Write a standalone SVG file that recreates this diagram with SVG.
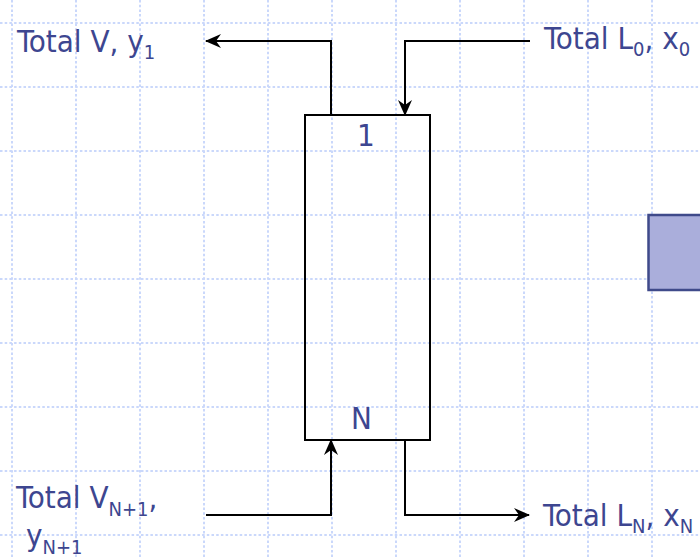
<svg xmlns="http://www.w3.org/2000/svg" width="700" height="559" viewBox="0 0 700 559">
<defs>
<style>
.grid line{stroke:#cad8fb;stroke-width:2;stroke-dasharray:2.5 2.2}
.lbl{font-family:"DejaVu Sans","Verdana",sans-serif;font-stretch:condensed;font-size:31px;fill:#3d4690}
.sub{font-size:20px}
.conn{fill:none;stroke:#000;stroke-width:2}
</style>
<marker id="ah" viewBox="0 0 16 14" refX="15" refY="7" markerWidth="16" markerHeight="14" markerUnits="userSpaceOnUse" orient="auto">
<path d="M0,0 L16,7 L0,14 L5,7 Z" fill="#000"/>
</marker>
</defs>
<rect width="700" height="559" fill="#fff"/>
<g class="grid">
<line x1="12" y1="0" x2="12" y2="559"/><line x1="76" y1="0" x2="76" y2="559"/><line x1="140" y1="0" x2="140" y2="559"/><line x1="204" y1="0" x2="204" y2="559"/><line x1="268" y1="0" x2="268" y2="559"/><line x1="332" y1="0" x2="332" y2="559"/><line x1="396" y1="0" x2="396" y2="559"/><line x1="460" y1="0" x2="460" y2="559"/><line x1="524" y1="0" x2="524" y2="559"/><line x1="588" y1="0" x2="588" y2="559"/><line x1="652" y1="0" x2="652" y2="559"/>
<line x1="0" y1="23" x2="700" y2="23"/><line x1="0" y1="87" x2="700" y2="87"/><line x1="0" y1="151" x2="700" y2="151"/><line x1="0" y1="215" x2="700" y2="215"/><line x1="0" y1="279" x2="700" y2="279"/><line x1="0" y1="343" x2="700" y2="343"/><line x1="0" y1="407" x2="700" y2="407"/><line x1="0" y1="471" x2="700" y2="471"/><line x1="0" y1="535" x2="700" y2="535"/>
</g>
<g id="purple-box"><rect x="648.5" y="215" width="60" height="75" fill="#aaaedb" stroke="#3f4a8a" stroke-width="2.5"/></g>
<g id="column">
<rect x="305" y="115" width="125" height="325" fill="none" stroke="#000" stroke-width="2"/>
<text class="lbl" x="357" y="146">1</text>
<text class="lbl" x="351" y="429">N</text>
</g>
<g id="connectors">
<path class="conn" d="M331,115 V41 H206" marker-end="url(#ah)"/>
<path class="conn" d="M530,41 H405 V115" marker-end="url(#ah)"/>
<path class="conn" d="M206,515 H331 V440" marker-end="url(#ah)"/>
<path class="conn" d="M405,440 V515 H529" marker-end="url(#ah)"/>
</g>
<g id="label-v1"><text class="lbl" x="17" y="52">Total V, y<tspan class="sub" dy="7">1</tspan></text></g>
<g id="label-l0"><text class="lbl" x="544" y="49">Total L<tspan class="sub" dy="7">0</tspan><tspan dy="-7">, x</tspan><tspan class="sub" dy="7">0</tspan></text></g>
<g id="label-vn1"><text class="lbl" x="16" y="508">Total V<tspan class="sub" dy="8">N+1</tspan><tspan dy="-8">,</tspan></text>
<text class="lbl" x="26" y="546">y<tspan class="sub" dy="8">N+1</tspan></text></g>
<g id="label-ln"><text class="lbl" x="543" y="526">Total L<tspan class="sub" dy="7">N</tspan><tspan dy="-7">, x</tspan><tspan class="sub" dy="7">N</tspan></text></g>
</svg>
